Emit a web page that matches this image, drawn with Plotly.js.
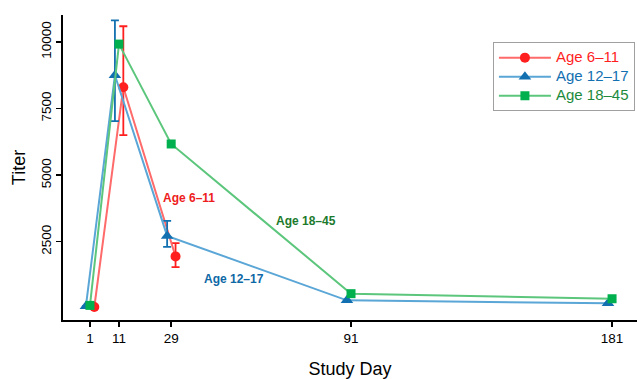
<!DOCTYPE html>
<html>
<head>
<meta charset="utf-8">
<script src="https://cdn.plot.ly/plotly-3.0.1.min.js"></script>
<style>html,body{margin:0;padding:0;background:#fff;}#chart{width:637px;height:379px;}</style>
</head>
<body>
<div id="chart"></div>
<script>
// Data
const studyDays = [1, 11, 29, 91, 181];
const seriesNames = ['Age 6–11', 'Age 12–17', 'Age 18–45'];
const titer611 = [50, 8300, 1950];
const err611Plus = [null, 2290, 500];
const err611Minus = [null, 1800, 400];
const titer1217 = [80, 8750, 2720, 300, 190];
const err1217Plus = [null, 2060, 560, null, null];
const err1217Minus = [null, 1720, 410, null, null];
const titer1845 = [110, 9920, 6170, 550, 360];
const yTickVals = [2500, 5000, 7500, 10000];

// Styles
const markerCols = ['#FF1F1F', '#1370B0', '#00B04E'];
const lineCols = ['#FF6A6A', '#5AA6D6', '#5CC67C'];
const textCols = ['#EE1C1C', '#0E68A6', '#1C7A2C'];
const legendCols = ['#FF1F1F', '#1370B0', '#1C8A3C'];
const dodge = [1.5, -1.4, 0];
const FONT = 'Liberation Sans, Arial, Helvetica, sans-serif';

function shift(days, d, n) { return days.slice(0, n).map(v => v + d); }

const ys = [titer611, titer1217, titer1845];
const eP = [err611Plus, err1217Plus, null];
const eM = [err611Minus, err1217Minus, null];
const symbols = ['circle', 'triangle-up', 'square'];
const sizes = [10, 11, 9];

const traces = ys.map((y, i) => {
  const t = {
    type: 'scatter', mode: 'lines+markers',
    x: shift(studyDays, dodge[i], y.length), y: y,
    name: '<span style="color:' + legendCols[i] + ';font-size:15px">' + seriesNames[i] + '</span>',
    line: {color: lineCols[i], width: 2},
    marker: {color: markerCols[i], symbol: symbols[i], size: sizes[i]},
    cliponaxis: false
  };
  if (eP[i]) {
    t.error_y = {type: 'data', symmetric: false, array: eP[i], arrayminus: eM[i],
      color: markerCols[i], thickness: 1.8, width: 4};
  }
  return t;
});

const layout = {
  width: 637, height: 379,
  margin: {l: 63, r: 0, t: 15, b: 59, autoexpand: false},
  paper_bgcolor: '#fff', plot_bgcolor: '#fff',
  font: {family: FONT, size: 13, color: '#000'},
  showlegend: true,
  legend: {x: 0.749, y: 0.911, xanchor: 'left', yanchor: 'top',
    bordercolor: '#A0A0A0', borderwidth: 1, bgcolor: '#fff',
    itemwidth: 52,
    font: {family: FONT, size: 11}, tracegroupgap: 0},
  xaxis: {
    range: [-8.3, 189.6], tickvals: studyDays, ticktext: studyDays.map(String),
    showgrid: false, zeroline: false, showline: true, linecolor: '#000', linewidth: 2,
    ticks: 'outside', ticklen: 5, tickwidth: 1.5, tickcolor: '#000',
    tickfont: {family: FONT, size: 13.5},
    title: {text: 'Study Day', font: {family: FONT, size: 18}, standoff: 22}
  },
  yaxis: {
    range: [-438, 11012], tickvals: yTickVals, ticktext: yTickVals.map(String),
    tickangle: -90,
    showgrid: false, zeroline: false, showline: true, linecolor: '#000', linewidth: 2,
    ticks: 'outside', ticklen: 5, tickwidth: 1.5, tickcolor: '#000',
    tickfont: {family: FONT, size: 13.5},
    title: {text: 'Titer', font: {family: FONT, size: 18}, standoff: 8}
  },
  annotations: [
    {x: 29 + 6.3, y: 4130, text: '<b>' + seriesNames[0] + '</b>', showarrow: false,
      font: {family: FONT, size: 12, color: textCols[0]}},
    {x: 29 + 21.5, y: 1100, text: '<b>' + seriesNames[1] + '</b>', showarrow: false,
      font: {family: FONT, size: 12, color: textCols[1]}},
    {x: 29 + 46.5, y: 3280, text: '<b>' + seriesNames[2] + '</b>', showarrow: false,
      font: {family: FONT, size: 12, color: textCols[2]}}
  ]
};

Plotly.newPlot('chart', traces, layout, {displayModeBar: false, staticPlot: true});
</script>
</body>
</html>
